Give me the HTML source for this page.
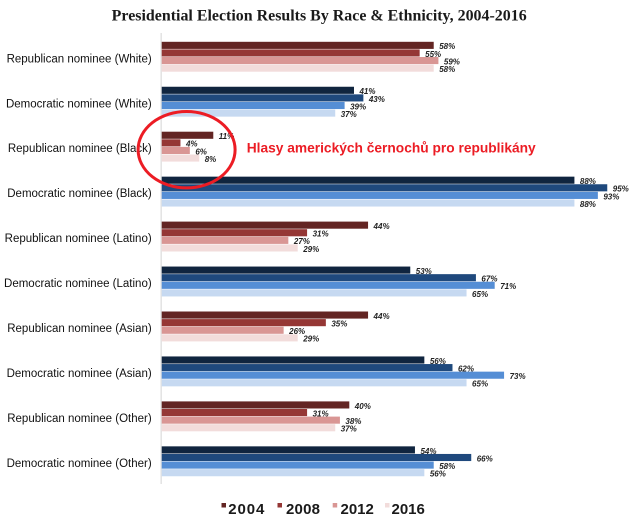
<!DOCTYPE html>
<html>
<head>
<meta charset="utf-8">
<style>
html,body{margin:0;padding:0;background:#fff;}
svg{display:block;}
.cat{font-family:"Liberation Sans",sans-serif;font-size:11.5px;fill:#111;}
.val{font-family:"Liberation Sans",sans-serif;font-size:8px;font-weight:bold;font-style:italic;fill:#222;}
</style>
</head>
<body>
<svg width="640" height="522" viewBox="0 0 640 522" xmlns="http://www.w3.org/2000/svg">
<rect width="640" height="522" fill="#fff"/>
<text x="111.7" y="20.7" font-family="Liberation Serif, serif" font-weight="bold" font-size="15.5" fill="#1a1a1a" textLength="415" lengthAdjust="spacingAndGlyphs">Presidential Election Results By Race &amp; Ethnicity, 2004-2016</text>
<line x1="161.2" y1="33" x2="161.2" y2="484" stroke="#e2e2e2" stroke-width="1.5"/>
<g id="bars"></g>
<ellipse cx="186.6" cy="149.7" rx="48.5" ry="38.2" fill="none" stroke="#ec1c24" stroke-width="3"/>
<text x="246.7" y="152.7" font-family="Liberation Sans, sans-serif" font-weight="bold" font-size="14" fill="#ec1c24" textLength="289" lengthAdjust="spacingAndGlyphs">Hlasy amerických černochů pro republikány</text>
<g font-family="Liberation Sans, sans-serif" font-weight="bold" font-size="15" fill="#1a1a1a">
<rect x="221.5" y="503" width="4.5" height="4.5" fill="#632523"/>
<text x="228.3" y="514" textLength="36" lengthAdjust="spacing">2004</text>
<rect x="277.5" y="503" width="4.5" height="4.5" fill="#953735"/>
<text x="286" y="514" textLength="34" lengthAdjust="spacing">2008</text>
<rect x="332.7" y="503" width="4.5" height="4.5" fill="#d99694"/>
<text x="340.5" y="514">2012</text>
<rect x="385" y="503" width="4.5" height="4.5" fill="#f2dcdb"/>
<text x="391.5" y="514">2016</text>
</g>
</svg>
<script>
(function(){
var data=[
["Republican nominee (White)",0,[58,55,59,58]],
["Democratic nominee (White)",1,[41,43,39,37]],
["Republican nominee (Black)",0,[11,4,6,8]],
["Democratic nominee (Black)",1,[88,95,93,88]],
["Republican nominee (Latino)",0,[44,31,27,29]],
["Democratic nominee (Latino)",1,[53,67,71,65]],
["Republican nominee (Asian)",0,[44,35,26,29]],
["Democratic nominee (Asian)",1,[56,62,73,65]],
["Republican nominee (Other)",0,[40,31,38,37]],
["Democratic nominee (Other)",1,[54,66,58,56]]
];
var cols=[["#632523","#953735","#d99694","#f2dcdb"],["#10253f","#1f497d","#558ed5","#c6d9f1"]];
var g=document.getElementById("bars");
var ns="http://www.w3.org/2000/svg";
var x0=161.7,s=4.69;
for(var i=0;i<data.length;i++){
  var top=41.8+i*44.95;
  var t=document.createElementNS(ns,"text");
  t.setAttribute("x","151.7");t.setAttribute("y",(top+20.5).toFixed(2));
  t.setAttribute("text-anchor","end");t.setAttribute("class","cat");
  t.textContent=data[i][0];g.appendChild(t);
  for(var j=0;j<4;j++){
    var v=data[i][2][j];var y=top+j*7.6;var w=v*s;
    var r=document.createElementNS(ns,"rect");
    r.setAttribute("x",x0);r.setAttribute("y",y.toFixed(2));
    r.setAttribute("width",w.toFixed(2));r.setAttribute("height","7.1");
    r.setAttribute("fill",cols[data[i][1]][j]);g.appendChild(r);
  }
  for(var j=0;j<4;j++){
    var v=data[i][2][j];var y=top+j*7.6;var w=v*s;
    var l=document.createElementNS(ns,"text");
    l.setAttribute("x",(x0+w+5.5).toFixed(2));l.setAttribute("y",(y+7.4).toFixed(2));
    l.setAttribute("class","val");l.textContent=v+"%";g.appendChild(l);
  }
}
})();
</script>
</body>
</html>
